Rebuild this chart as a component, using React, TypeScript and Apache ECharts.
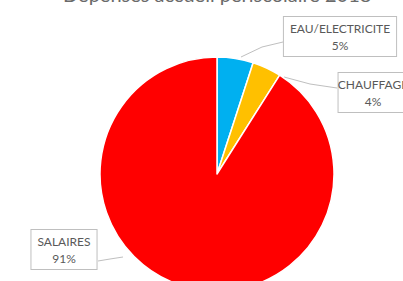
import React, { useEffect, useRef } from "react";
import * as echarts from "echarts";

const categories = ["EAU/ELECTRICITE", "CHAUFFAGE", "SALAIRES"];
const values = [5, 4, 91];
const colors = ["#00b0f0", "#ffc000", "#ff0000"];
const titleText = "Dépenses accueil périscolaire 2018";

export default function App() {
  const ref = useRef<HTMLDivElement>(null);
  useEffect(() => {
    if (!ref.current) return;
    const chart = echarts.init(ref.current, undefined, { renderer: "svg" });
    const labelPos: Record<string, { x: number; y: number; line: number[][] }> = {
      "EAU/ELECTRICITE": { x: 340, y: 17, line: [[241, 57], [262, 47], [283, 42]] },
      CHAUFFAGE: { x: 373, y: 73, line: [[284, 77], [310, 84], [337, 88]] },
      SALAIRES: { x: 64, y: 230, line: [[123, 257], [110, 259], [98, 261]] },
    };
    chart.setOption({
      animation: false,
      backgroundColor: "#ffffff",
      title: {
        text: titleText,
        left: 58,
        top: -21,
        textStyle: { fontFamily: "Lato", fontSize: 20, fontWeight: "normal", color: "#6a6a6a" },
      },
      series: [
        {
          type: "pie",
          center: [217, 174],
          radius: 117,
          startAngle: 90,
          clockwise: true,
          itemStyle: { borderColor: "#ffffff", borderWidth: 1.5 },
          data: categories.map((c, i) => ({ name: c, value: values[i], itemStyle: { color: colors[i] } })),
          label: {
            show: true,
            position: "outside",
            formatter: "{b}\n{d}%",
            fontFamily: "Lato",
            fontSize: 12,
            lineHeight: 17,
            color: "#595959",
            align: "center",
            overflow: "none",
            backgroundColor: "#ffffff",
            borderColor: "#bfbfbf",
            borderWidth: 1,
            padding: [3, 6, 2, 6],
          },
          labelLine: { show: true, lineStyle: { color: "#bfbfbf", width: 1 }, length: 10, length2: 10 },
          labelLayout: (params: any) => {
            const name = categories[params.dataIndex];
            const p = labelPos[name];
            return { x: p.x, y: p.y, align: "center", verticalAlign: "top", labelLinePoints: p.line };
          },
        },
      ],
    });
    return () => chart.dispose();
  }, []);
  return (
    <div
      ref={ref}
      style={{ position: "fixed", left: 0, top: 0, width: 403, height: 281 }}
    />
  );
}
